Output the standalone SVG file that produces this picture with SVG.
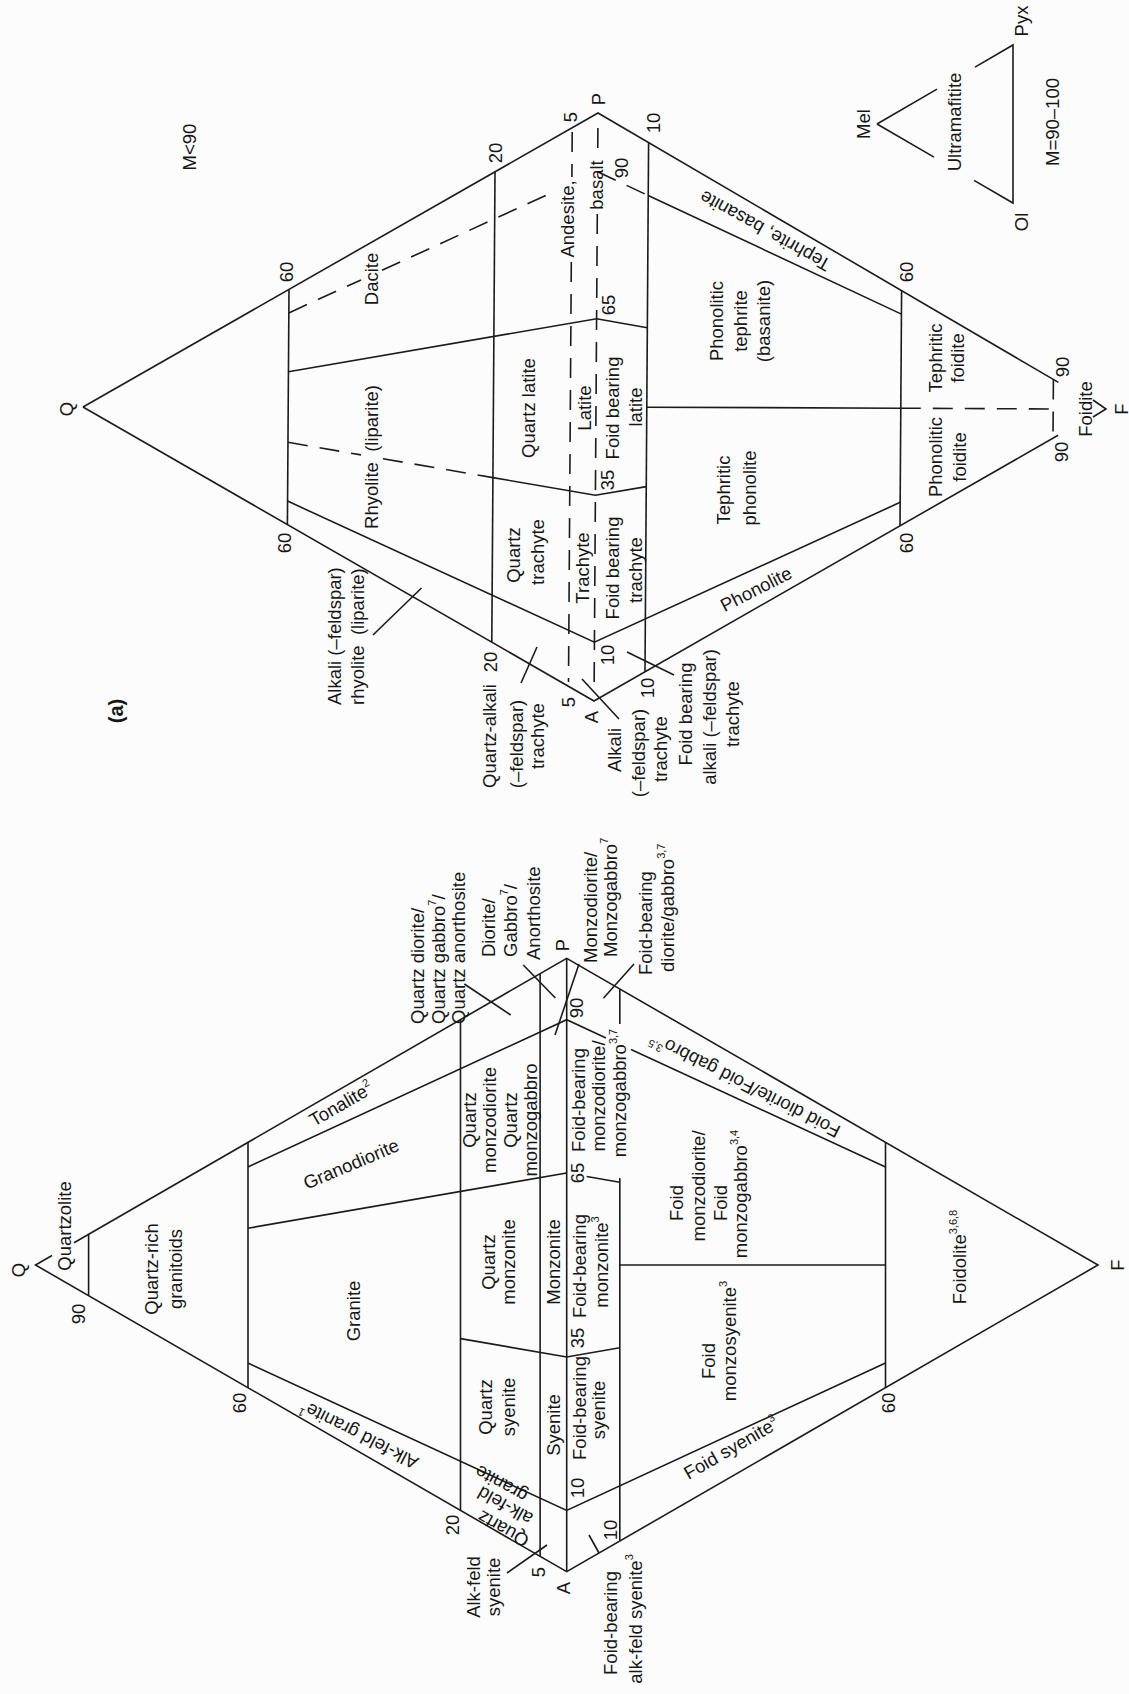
<svg xmlns="http://www.w3.org/2000/svg" width="1129" height="1694" viewBox="0 0 1129 1694">
<style>
.t{font-family:"Liberation Sans",Arial,Helvetica,sans-serif;font-size:18.5px;fill:#161616;text-anchor:middle;dominant-baseline:central}
.s{text-anchor:start}
.sup{font-size:11px}
.b{font-weight:bold;font-size:20px}
.l{fill:none;stroke:#1b1b1b;stroke-width:1.6}
.d{stroke-dasharray:20 12}
</style>
<rect width="1129" height="1694" fill="#fcfcfc"/>

<g id="volcanic">
<g id="volcanic-lines" class="l">
<path d="M83,407 L598,113 L1058.4,382.4"/>
<path d="M83,407 L594,701 L1058.1,435.3"/>
<path d="M1093,400 L1106,409 L1093,417"/>
<path d="M289,289.4 L287.4,524.6"/>
<path d="M495,171.8 L491.8,642.2"/>
<path d="M287.6,501.1 L594.4,642.2 L900.2,502.3"/>
<path d="M492.9,477.6 L595.4,495.2 L646.3,486.6"/>
<path d="M288.4,371.7 L596.6,318.8 L647.3,327.8"/>
<path d="M648.2,195.5 L901.4,314.1"/>
<path d="M646.8,407.2 L900.8,408.2"/>
<path d="M648.6,142.6 L645,671.8"/>
<path d="M901.6,290.6 L900,525.8"/>
<path class="d" d="M572.2,132 L571.9,177 M571.3,262 L568.5,682"/>
<path class="d" d="M597.9,128 L597.7,156 M597.3,214 L594.1,690"/>
<path class="d" d="M288,442.3 L361,454.9 M383,458.7 L492.9,477.6"/>
<path class="d" d="M288.8,312.9 L361,279.9 M382,270.3 L546.1,195.3"/>
<path class="d" d="M597.6,171.8 L648.2,195.5"/>
<path class="d" d="M900.8,408.2 L1055,409"/>
<path class="d" d="M1053.4,379.4 L1053,438.2"/>
<path d="M373,635 L421.5,588"/>
<path d="M521,683 L537,647"/>
<path d="M582,679 L619,719"/>
<path d="M627,652 L674,675"/>
<path d="M877,124 L937,89.1 M975,67.1 L1013,45 L1013,203 L974,180.4 M934,157.1 L877,124"/>
</g>
<g id="volcanic-labels">
<text class="t" transform="translate(189,147) rotate(-90)">M&lt;90</text>
<text class="t" transform="translate(66,409) rotate(-90)">Q</text>
<text class="t" transform="translate(286,272) rotate(-90)">60</text>
<text class="t" transform="translate(284,543) rotate(-90)">60</text>
<text class="t" transform="translate(371,279) rotate(-90)">Dacite</text>
<text class="t" transform="translate(371,457) rotate(-90)">Rhyolite&#160; (liparite)</text>
<text class="t" transform="translate(495,153) rotate(-90)">20</text>
<text class="t" transform="translate(528,408) rotate(-90)">Quartz latite</text>
<text class="t" transform="translate(513,555) rotate(-90)">Quartz</text>
<text class="t" transform="translate(537,552) rotate(-90)">trachyte</text>
<text class="t" transform="translate(570,117) rotate(-90)">5</text>
<text class="t" transform="translate(598,99) rotate(-90)">P</text>
<text class="t" transform="translate(567,219) rotate(-90)">Andesite,</text>
<text class="t" transform="translate(596,185) rotate(-90)">basalt</text>
<text class="t" transform="translate(621,168) rotate(-90)">90</text>
<text class="t" transform="translate(653,123) rotate(-90)">10</text>
<text class="t" transform="translate(608,305) rotate(-90)">65</text>
<text class="t" transform="translate(607,480) rotate(-90)">35</text>
<text class="t" transform="translate(584,408) rotate(-90)">Latite</text>
<text class="t" transform="translate(612,408) rotate(-90)">Foid bearing</text>
<text class="t" transform="translate(635,407) rotate(-90)">latite</text>
<text class="t" transform="translate(582,568) rotate(-90)">Trachyte</text>
<text class="t" transform="translate(612,568) rotate(-90)">Foid bearing</text>
<text class="t" transform="translate(635,570) rotate(-90)">trachyte</text>
<text class="t" transform="translate(607,655) rotate(-90)">10</text>
<text class="t" transform="translate(568,702) rotate(-90)">5</text>
<text class="t" transform="translate(591,717) rotate(-90)">A</text>
<text class="t" transform="translate(647,688) rotate(-90)">10</text>
<text class="t s" transform="translate(334,705) rotate(-90)">Alkali (–feldspar)</text>
<text class="t s" transform="translate(357,705) rotate(-90)">rhyolite&#160; (liparite)</text>
<text class="t" transform="translate(489,736) rotate(-90)">Quartz-alkali</text>
<text class="t" transform="translate(490,662) rotate(-90)">20</text>
<text class="t" transform="translate(516,744) rotate(-90)">(–feldspar)</text>
<text class="t" transform="translate(537,736) rotate(-90)">trachyte</text>
<text class="t" transform="translate(614,750) rotate(-90)">Alkali</text>
<text class="t" transform="translate(638,753) rotate(-90)">(–feldspar)</text>
<text class="t" transform="translate(660,749) rotate(-90)">trachyte</text>
<text class="t" transform="translate(685,714) rotate(-90)">Foid bearing</text>
<text class="t" transform="translate(709,717) rotate(-90)">alkali (–feldspar)</text>
<text class="t" transform="translate(732,714) rotate(-90)">trachyte</text>
<text class="t" transform="translate(756,589) rotate(-27)">Phonolite</text>
<text class="t" transform="translate(723,490) rotate(-90)">Tephritic</text>
<text class="t" transform="translate(749,488) rotate(-90)">phonolite</text>
<text class="t" transform="translate(716,321) rotate(-90)">Phonolitic</text>
<text class="t" transform="translate(740,321) rotate(-90)">tephrite</text>
<text class="t" transform="translate(763,321) rotate(-90)">(basanite)</text>
<text class="t" transform="translate(765,231) rotate(-151)">Tephrite, basanite</text>
<text class="t" transform="translate(906,272) rotate(-90)">60</text>
<text class="t" transform="translate(906,543) rotate(-90)">60</text>
<text class="t" transform="translate(935,358) rotate(-90)">Tephritic</text>
<text class="t" transform="translate(957,358) rotate(-90)">foidite</text>
<text class="t" transform="translate(935,457) rotate(-90)">Phonolitic</text>
<text class="t" transform="translate(959,457) rotate(-90)">foidite</text>
<text class="t" transform="translate(1062,367) rotate(-90)">90</text>
<text class="t" transform="translate(1061,452) rotate(-90)">90</text>
<text class="t" transform="translate(1085,409) rotate(-90)">Foidite</text>
<text class="t" transform="translate(1121,409) rotate(-90)">F</text>
<text class="t" transform="translate(863,124) rotate(-90)">Mel</text>
<text class="t" transform="translate(1021,21) rotate(-90)">Pyx</text>
<text class="t" transform="translate(1021,222) rotate(-90)">Ol</text>
<text class="t" transform="translate(954,122) rotate(-90)">Ultramafitite</text>
<text class="t" transform="translate(1052,122) rotate(-90)">M=90–100</text>
<text class="t b" transform="translate(116,711) rotate(-90)">(a)</text>
</g>
</g>

<g id="plutonic">
<g id="plutonic-lines" class="l">
<path d="M74,1242.8 L566.7,958.3 L1098,1265 L566.7,1571.7 L35.5,1265 L52,1255.5"/>
<path d="M88.6,1234.3 L88.6,1295.7"/>
<path d="M248,1142.3 L248,1387.7"/>
<path d="M460.5,1019.6 L460.5,1510.4"/>
<path d="M540.1,973.6 L540.1,1556.4"/>
<path d="M566.7,958.3 L566.7,1571.7"/>
<path d="M248,1363.1 L566.7,1510.4 L885.5,1363.1"/>
<path d="M460.5,1338.6 L566.7,1357 L619.8,1347.8"/>
<path d="M248,1228.2 L566.7,1173 M586.7,1176.5 L619.8,1182.2"/>
<path d="M248,1166.9 L566.7,1019.7 L606,1037.9 M631,1049.4 L885.5,1166.9"/>
<path d="M619.8,988.9 L619.8,1024 M619.8,1178 L619.8,1541"/>
<path d="M885.5,1142.3 L885.5,1387.7"/>
<path d="M619.8,1265 L885.5,1265"/>
<path d="M464.3,984 L510.7,1015"/>
<path d="M523.3,965 L555.4,998"/>
<path d="M579,964 L555,1035"/>
<path d="M634,964 L603.4,998.3"/>
<path d="M507,1573 L547,1545"/>
<path d="M589,1535 L599,1553"/>
</g>
<g id="plutonic-labels">
<text class="t" transform="translate(18,1270) rotate(-90)">Q</text>
<text class="t" transform="translate(64,1226) rotate(-90)">Quartzolite</text>
<text class="t" transform="translate(78,1314) rotate(-90)">90</text>
<text class="t" transform="translate(151,1269) rotate(-90)">Quartz-rich</text>
<text class="t" transform="translate(175.5,1269) rotate(-90)">granitoids</text>
<text class="t" transform="translate(239,1403) rotate(-90)">60</text>
<text class="t" transform="translate(353,1311) rotate(-90)">Granite</text>
<text class="t" transform="translate(351,1164) rotate(-23)">Granodiorite</text>
<text class="t" transform="translate(341,1104) rotate(-30)">Tonalite<tspan class="sup" dy="-6">2</tspan></text>
<text class="t" transform="translate(359,1435) rotate(-153)">Alk-feld granite<tspan class="sup" dy="-6">1</tspan></text>
<text class="t" transform="translate(503,1529) rotate(-151)">Quartz</text>
<text class="t" transform="translate(505,1506) rotate(-151)">alk-feld</text>
<text class="t" transform="translate(501,1484) rotate(-151)">granite</text>
<text class="t" transform="translate(452,1525) rotate(-90)">20</text>
<text class="t" transform="translate(473,1587) rotate(-90)">Alk-feld</text>
<text class="t" transform="translate(493,1587) rotate(-90)">syenite</text>
<text class="t" transform="translate(538,1572) rotate(-90)">5</text>
<text class="t" transform="translate(563,1588) rotate(-90)">A</text>
<text class="t" transform="translate(577,1488) rotate(-90)">10</text>
<text class="t" transform="translate(579,1408) rotate(-90)">Foid-bearing</text>
<text class="t" transform="translate(598,1410) rotate(-90)">syenite</text>
<text class="t" transform="translate(553,1425) rotate(-90)">Syenite</text>
<text class="t" transform="translate(485,1407) rotate(-90)">Quartz</text>
<text class="t" transform="translate(508,1407) rotate(-90)">syenite</text>
<text class="t" transform="translate(610,1530) rotate(-90)">10</text>
<text class="t" transform="translate(610.5,1623) rotate(-90)">Foid-bearing</text>
<text class="t" transform="translate(635,1619) rotate(-90)">alk-feld syenite<tspan class="sup" dy="-6">3</tspan></text>
<text class="t" transform="translate(731,1448) rotate(-30)">Foid syenite<tspan class="sup" dy="-6">3</tspan></text>
<text class="t" transform="translate(888,1403) rotate(-90)">60</text>
<text class="t" transform="translate(708,1361) rotate(-90)">Foid</text>
<text class="t" transform="translate(729,1341) rotate(-90)">monzosyenite<tspan class="sup" dy="-6">3</tspan></text>
<text class="t" transform="translate(676,1203) rotate(-90)">Foid</text>
<text class="t" transform="translate(698,1186) rotate(-90)">monzodiorite/</text>
<text class="t" transform="translate(720,1203) rotate(-90)">Foid</text>
<text class="t" transform="translate(740,1194) rotate(-90)">monzogabbro<tspan class="sup" dy="-6">3,4</tspan></text>
<text class="t" transform="translate(959,1257) rotate(-90)">Foidolite<tspan class="sup" dy="-6">3,6,8</tspan></text>
<text class="t" transform="translate(745,1085) rotate(-153)">Foid diorite/Foid gabbro<tspan class="sup" dy="-6">3,5</tspan></text>
<text class="t" transform="translate(578,1100) rotate(-90)">Foid-bearing</text>
<text class="t" transform="translate(598,1096) rotate(-90)">monzodiorite/</text>
<text class="t" transform="translate(619,1093) rotate(-90)">monzogabbro<tspan class="sup" dy="-6">3,7</tspan></text>
<text class="t" transform="translate(577,1173) rotate(-90)">65</text>
<text class="t" transform="translate(577,1338) rotate(-90)">35</text>
<text class="t" transform="translate(576,1008) rotate(-90)">90</text>
<text class="t" transform="translate(579,1266) rotate(-90)">Foid-bearing</text>
<text class="t" transform="translate(601,1262) rotate(-90)">monzonite<tspan class="sup" dy="-6">3</tspan></text>
<text class="t" transform="translate(553,1262) rotate(-90)">Monzonite</text>
<text class="t" transform="translate(488,1262) rotate(-90)">Quartz</text>
<text class="t" transform="translate(508,1262) rotate(-90)">monzonite</text>
<text class="t" transform="translate(469,1120) rotate(-90)">Quartz</text>
<text class="t" transform="translate(489,1120) rotate(-90)">monzodiorite</text>
<text class="t" transform="translate(510,1120) rotate(-90)">Quartz</text>
<text class="t" transform="translate(530,1120) rotate(-90)">monzogabbro</text>
<text class="t s" transform="translate(417,1024) rotate(-90)">Quartz diorite/</text>
<text class="t s" transform="translate(438,1024) rotate(-90)">Quartz gabbro<tspan class="sup" dy="-6">7</tspan><tspan dy="6">/</tspan></text>
<text class="t s" transform="translate(458,1024) rotate(-90)">Quartz anorthosite</text>
<text class="t s" transform="translate(488,957) rotate(-90)">Diorite/</text>
<text class="t s" transform="translate(510,957) rotate(-90)">Gabbro<tspan class="sup" dy="-6">7</tspan><tspan dy="6">/</tspan></text>
<text class="t s" transform="translate(533,960) rotate(-90)">Anorthosite</text>
<text class="t" transform="translate(562,945) rotate(-90)">P</text>
<text class="t s" transform="translate(590,963) rotate(-90)">Monzodiorite/</text>
<text class="t s" transform="translate(610,957) rotate(-90)">Monzogabbro<tspan class="sup" dy="-6">7</tspan></text>
<text class="t s" transform="translate(645,975) rotate(-90)">Foid-bearing</text>
<text class="t s" transform="translate(667,972) rotate(-90)">diorite/gabbro<tspan class="sup" dy="-6">3,7</tspan></text>
<text class="t" transform="translate(1117,1265) rotate(-90)">F</text>
</g>
</g>
</svg>
